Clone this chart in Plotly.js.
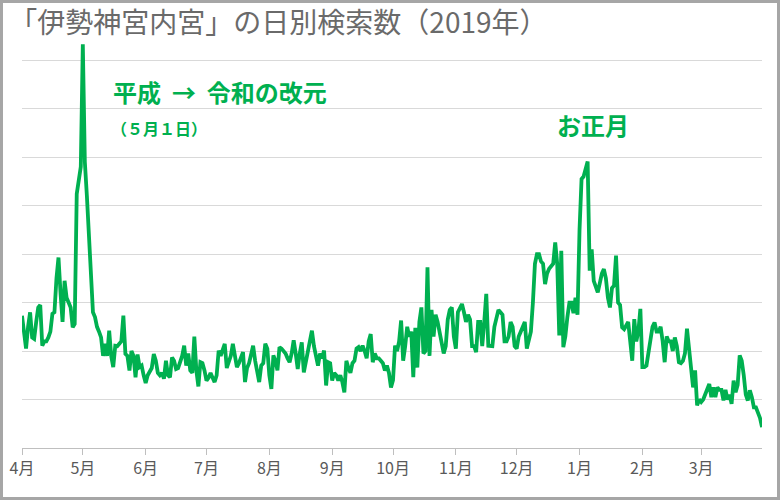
<!DOCTYPE html>
<html>
<head>
<meta charset="utf-8">
<script src="https://cdn.plot.ly/plotly-3.0.1.min.js"></script>
<style>
  html, body { margin: 0; padding: 0; background: #ffffff; }
  #wrap { position: relative; width: 780px; height: 500px; }
  #chart { position: absolute; left: 0; top: 0; width: 780px; height: 500px; }
  #frame { position: absolute; left: 0; top: 0; width: 780px; height: 500px; box-sizing: border-box; border: 3px solid #a6a6a6; pointer-events: none; }
</style>
</head>
<body>
<div id="wrap"><div id="chart"></div><div id="frame"></div></div>
<script>
const chartTitle = '「伊勢神宮内宮」の日別検索数（2019年）';
const startDate = '2019-04-01';

const aprValues = [2730, 2300, 2050, 2500, 2800, 2280, 2250, 2600, 2900, 2950, 2110, 2200, 2200, 2280, 2400, 2770, 2800, 3500, 3930, 3200, 2600, 3450, 3100, 3000, 2900, 2490, 2560, 5240, 5500, 5800];
const mayValues = [8330, 5900, 5200, 4300, 3450, 2800, 2700, 2500, 2400, 2280, 1900, 2150, 1900, 2420, 1900, 1670, 2110, 2100, 2150, 2200, 2730, 1940, 1900, 1600, 2000, 1900, 1460, 1930, 1670, 1700, 1500];
const junValues = [1340, 1500, 1600, 1650, 1940, 1800, 1550, 1500, 1550, 1430, 1800, 1500, 1460, 1870, 1800, 1630, 1650, 1750, 1900, 2110, 1700, 1950, 1600, 1550, 2300, 1600, 1270, 1770, 1750, 1600];
const julValues = [1390, 1450, 1550, 1450, 1360, 1500, 2010, 1900, 2000, 2150, 1650, 1800, 1900, 2150, 1850, 1670, 1750, 1850, 1980, 1360, 1650, 1750, 1900, 2110, 1800, 1600, 1360, 1700, 1750, 2150, 2050];
const augValues = [1500, 1220, 1910, 1800, 1600, 2080, 2050, 2000, 1950, 1850, 1770, 1950, 2220, 1950, 1630, 1950, 2180, 1560, 1800, 1950, 2200, 2420, 2100, 1870, 1700, 1950, 1850, 2010, 1290, 1770, 1750];
const sepValues = [1390, 1550, 1500, 1390, 1500, 1360, 1150, 1800, 1650, 1550, 1750, 1800, 2050, 2080, 2000, 2110, 2000, 1850, 2200, 2350, 1770, 1950, 1850, 1850, 1800, 1750, 1600, 1700, 1550, 1250];
const octValues = [1400, 2110, 2000, 2200, 2630, 1800, 2100, 2500, 2300, 2400, 1460, 2480, 1660, 2600, 2900, 1950, 2000, 3730, 1900, 2850, 2300, 2750, 2600, 2350, 2200, 1950, 2100, 2650, 2850, 2900, 2300];
const novValues = [2050, 2800, 2900, 2970, 2800, 2600, 2750, 2650, 2100, 2100, 1980, 2600, 2600, 2100, 2600, 3180, 2110, 2100, 2100, 2500, 2700, 2850, 2800, 2750, 2200, 2200, 2300, 2600, 2500, 2100];
const decValues = [2050, 2300, 2400, 2500, 2600, 2050, 2200, 2400, 3000, 3800, 4000, 4000, 3850, 3800, 3380, 3600, 3700, 3750, 3800, 4240, 3800, 2320, 4070, 2080, 2300, 2700, 3000, 3000, 2780, 3100, 2750];
const janValues = [4500, 5550, 5600, 5750, 5910, 3660, 4100, 3450, 3350, 3210, 3400, 3600, 3690, 3500, 3100, 2900, 3300, 3350, 3970, 3000, 2950, 2490, 2450, 2550, 2600, 2200, 1800, 2660, 2200, 2400, 2870];
const febValues = [1670, 1670, 1700, 2000, 2300, 2500, 2590, 2400, 2400, 2500, 2200, 1770, 2300, 2200, 2200, 2000, 2280, 2100, 1770, 1750, 1800, 1950, 2460, 2000, 1600, 1250, 1600, 880, 1000];
const marValues = [950, 1000, 1100, 1250, 1320, 1050, 1250, 1050, 1250, 1200, 1200, 980, 1200, 1000, 1100, 910, 1390, 1150, 1300, 1910, 1800, 1500, 1100, 980, 1190, 1050, 840, 840, 750, 620, 430];

const monthTicks = ['2019-04-01', '2019-05-01', '2019-06-01', '2019-07-01', '2019-08-01', '2019-09-01', '2019-10-01', '2019-11-01', '2019-12-01', '2020-01-01', '2020-02-01', '2020-03-01'];
const monthLabels = ['4月', '5月', '6月', '7月', '8月', '9月', '10月', '11月', '12月', '1月', '2月', '3月'];

const noteTexts = ['平成\u00a0\u00a0→\u00a0\u00a0令和の改元', '（５月１日）', 'お正月'];

const values = [].concat(aprValues, mayValues, junValues, julValues, augValues, sepValues,
  octValues, novValues, decValues, janValues, febValues, marValues);

const dates = [];
const base = new Date(startDate + 'T00:00:00Z');
for (let i = 0; i < values.length; i++) {
  const d = new Date(base.getTime() + i * 86400000);
  dates.push(d.toISOString().slice(0, 10));
}

const green = '#00b050';
const fontFam = '"Noto Sans CJK JP", "Noto Sans", sans-serif';

const trace = {
  type: 'scatter',
  mode: 'lines',
  x: dates,
  y: values,
  line: { color: green, width: 3.8 },
  hoverinfo: 'skip'
};

const layout = {
  width: 780,
  height: 500,
  margin: { l: 22, r: 18, t: 36, b: 52 },
  paper_bgcolor: '#ffffff',
  plot_bgcolor: '#ffffff',
  showlegend: false,
  font: { family: fontFam, color: '#595959' },
  title: {
    text: chartTitle,
    font: { family: fontFam, size: 28, color: '#6a6a6a' },
    x: 0.012, xanchor: 'left', xref: 'container',
    y: 0.953, yanchor: 'middle', yref: 'container'
  },
  xaxis: {
    type: 'date',
    range: [dates[0], dates[dates.length - 1]],
    tickvals: monthTicks,
    ticktext: monthLabels,
    ticks: 'outside',
    ticklen: 6,
    tickcolor: '#bfbfbf',
    tickwidth: 1,
    showgrid: false,
    showline: true,
    linecolor: '#bfbfbf',
    linewidth: 1,
    zeroline: false,
    tickfont: { family: fontFam, size: 16, color: '#595959' },
    fixedrange: true
  },
  yaxis: {
    range: [0, 8500],
    dtick: 1000,
    tick0: 0,
    showticklabels: false,
    ticks: '',
    showgrid: true,
    gridcolor: '#d9d9d9',
    gridwidth: 1,
    zeroline: false,
    showline: false,
    fixedrange: true
  },
  annotations: [
    {
      text: noteTexts[0], xref: 'paper', yref: 'paper', x: 0.12, y: 0.866,
      xanchor: 'left', yanchor: 'middle', showarrow: false,
      font: { family: fontFam, size: 24, color: green, weight: 'bold' }
    },
    {
      text: noteTexts[1], xref: 'paper', yref: 'paper', x: 0.118, y: 0.777,
      xanchor: 'left', yanchor: 'middle', showarrow: false,
      font: { family: fontFam, size: 16, color: green, weight: 'bold' }
    },
    {
      text: noteTexts[2], xref: 'paper', yref: 'paper', x: 0.771, y: 0.786,
      xanchor: 'center', yanchor: 'middle', showarrow: false,
      font: { family: fontFam, size: 24, color: green, weight: 'bold' }
    }
  ]
};

Plotly.newPlot('chart', [trace], layout, { displayModeBar: false, staticPlot: true });
</script>
</body>
</html>
